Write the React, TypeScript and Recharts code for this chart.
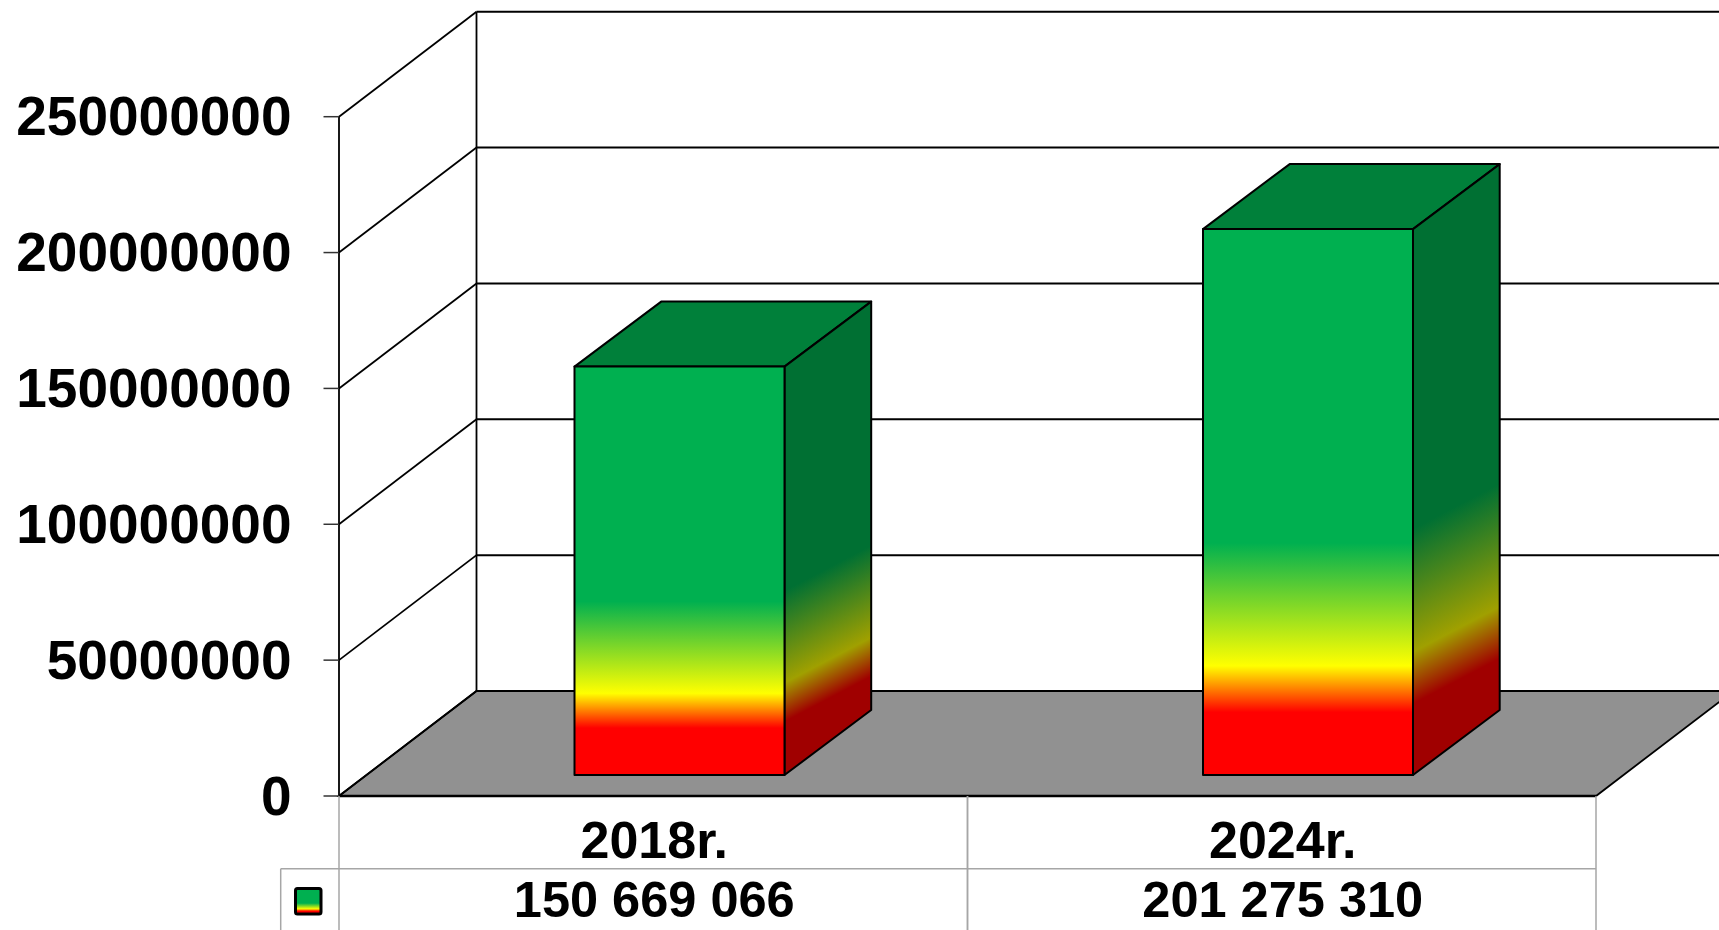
import React from "react";
import { Bar, BarChart, CartesianGrid, XAxis, YAxis } from "recharts";

const categories = ["2018r.", "2024r."];
const values = [150669066, 201275310];
const valueLabels = ["150 669 066", "201 275 310"];
const yTicks = [0, 50000000, 100000000, 150000000, 200000000, 250000000];

const chartData = categories.map((name, i) => ({ name, value: values[i], label: valueLabels[i] }));

const FONT = '"Liberation Sans", Arial, sans-serif';
const LEFT = 339;
const RIGHT = 1596;
const TOP = 116.7;
const BOTTOM = 796;

// back wall offset from the front plane
const WALL_DX = 137.5;
const WALL_DY = -105;
// bar position in the depth of the floor, and its own depth
const BAR_DX = 26.5;
const BAR_DY = -20;
const DEPTH_DX = 86.7;
const DEPTH_DY = -65;

const TABLE_GREY = "#a6a6a6";

function WallLine(props: any) {
  const { x1, y1 } = props;
  const isFloor = y1 >= BOTTOM - 1;
  return (
    <g>
      {isFloor && (
        <polygon
          points={`${LEFT},${BOTTOM} ${LEFT + WALL_DX},${BOTTOM + WALL_DY} ${RIGHT + WALL_DX},${BOTTOM + WALL_DY} ${RIGHT},${BOTTOM}`}
          fill="#919191"
          stroke="#000"
          strokeWidth={1.8}
        />
      )}
      {isFloor && (
        <line
          x1={LEFT + WALL_DX}
          y1={BOTTOM + WALL_DY}
          x2={LEFT + WALL_DX}
          y2={TOP + WALL_DY}
          stroke="#000"
          strokeWidth={1.8}
        />
      )}
      <line x1={x1} y1={y1} x2={x1 + WALL_DX} y2={y1 + WALL_DY} stroke="#000" strokeWidth={1.8} />
      <line
        x1={x1 + WALL_DX}
        y1={y1 + WALL_DY}
        x2={RIGHT + WALL_DX}
        y2={y1 + WALL_DY}
        stroke="#000"
        strokeWidth={2}
      />
    </g>
  );
}

function Box3D(props: any) {
  const { x, y, width, height, index } = props;
  const left = x + BAR_DX;
  const right = left + width;
  const top = y + BAR_DY;
  const bottom = top + height - 1;
  const sideId = `side-gradient-${index}`;
  return (
    <g stroke="#000" strokeWidth={2} strokeLinejoin="round">
      <defs>
        <linearGradient
          id={sideId}
          gradientUnits="userSpaceOnUse"
          x1={right}
          y1={bottom}
          x2={right - 0.411 * height}
          y2={bottom - 0.785 * height}
        >
          <stop offset="0%" stopColor="#a00000" />
          <stop offset="13%" stopColor="#a00000" />
          <stop offset="22.5%" stopColor="#a0a000" />
          <stop offset="45%" stopColor="#007033" />
          <stop offset="100%" stopColor="#007033" />
        </linearGradient>
      </defs>
      <polygon
        points={`${left},${top} ${left + DEPTH_DX},${top + DEPTH_DY} ${right + DEPTH_DX},${top + DEPTH_DY} ${right},${top}`}
        fill="#00803a"
      />
      <polygon
        points={`${right},${top} ${right + DEPTH_DX},${top + DEPTH_DY} ${right + DEPTH_DX},${bottom + DEPTH_DY} ${right},${bottom}`}
        fill={`url(#${sideId})`}
      />
      <rect x={left} y={top} width={width} height={bottom - top} fill="url(#frontGradient)" />
    </g>
  );
}

function TableTick(props: any) {
  const { x, y, index } = props;
  const half = (RIGHT - LEFT) / categories.length / 2;
  const textStyle = { fontFamily: FONT, fontWeight: 700, fontSize: 50.5, fill: "#000" };
  return (
    <g>
      <line x1={x - half} y1={y} x2={x - half} y2={y + 134} stroke={TABLE_GREY} strokeWidth={1.5} />
      <line x1={x + half} y1={y} x2={x + half} y2={y + 134} stroke={TABLE_GREY} strokeWidth={1.5} />
      <line x1={x - half} y1={y + 72.7} x2={x + half} y2={y + 72.7} stroke={TABLE_GREY} strokeWidth={1.5} />
      {index === 0 && (
        <g>
          <line x1={280.7} y1={y + 72.7} x2={x - half} y2={y + 72.7} stroke={TABLE_GREY} strokeWidth={1.5} />
          <line x1={280.7} y1={y + 72.7} x2={280.7} y2={y + 134} stroke={TABLE_GREY} strokeWidth={1.5} />
          <rect
            x={295.5}
            y={y + 92.5}
            width={25.5}
            height={25.5}
            rx={2}
            fill="url(#frontGradient)"
            stroke="#000"
            strokeWidth={3}
          />
        </g>
      )}
      <text x={x + 1} y={y + 62} textAnchor="middle" style={{ ...textStyle, fontSize: 52 }}>
        {categories[index]}
      </text>
      <text x={x + 1} y={y + 121} textAnchor="middle" style={textStyle}>
        {valueLabels[index]}
      </text>
    </g>
  );
}

export default function App() {
  return (
    <div style={{ position: "absolute", left: 0, top: 0, width: 1719, height: 930, overflow: "hidden", background: "#fff" }}>
      <BarChart
        width={1719}
        height={930}
        data={chartData}
        margin={{ top: TOP, right: 1719 - RIGHT, bottom: 0, left: 0 }}
      >
        <defs>
          <linearGradient id="frontGradient" x1="0" y1="0" x2="0" y2="1">
            <stop offset="0%" stopColor="#00b050" />
            <stop offset="57.5%" stopColor="#00b050" />
            <stop offset="80%" stopColor="#ffff00" />
            <stop offset="88.5%" stopColor="#ff0000" />
            <stop offset="100%" stopColor="#ff0000" />
          </linearGradient>
        </defs>
        <CartesianGrid vertical={false} horizontal={(p: any) => <WallLine key={p.index} {...p} />} />
        <XAxis
          dataKey="name"
          height={930 - BOTTOM}
          interval={0}
          tickLine={false}
          tickSize={0}
          tickMargin={0}
          axisLine={{ stroke: "#000", strokeWidth: 2.5 }}
          tick={TableTick}
        />
        <YAxis
          width={LEFT}
          domain={[0, 250000000]}
          ticks={yTicks}
          interval={0}
          tickSize={15.5}
          tickMargin={32}
          axisLine={{ stroke: "#000", strokeWidth: 1.8 }}
          tickLine={{ stroke: "#333", strokeWidth: 1.5 }}
          tick={{ fontFamily: FONT, fontWeight: 700, fontSize: 55, fill: "#000", dy: -1 }}
        />
        <Bar dataKey="value" barSize={210} isAnimationActive={false} shape={Box3D} />
      </BarChart>
    </div>
  );
}
